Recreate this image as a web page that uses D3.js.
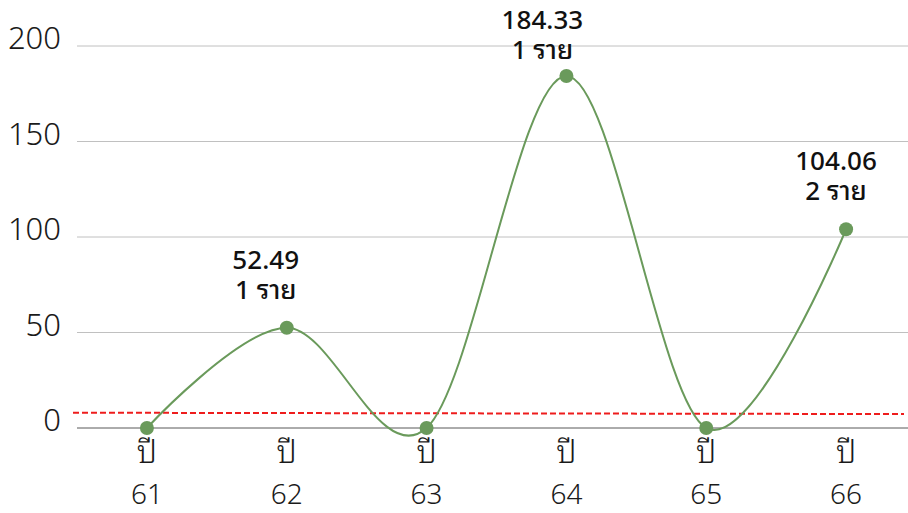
<!DOCTYPE html>
<html><head><meta charset="utf-8">
<script src="https://cdn.jsdelivr.net/npm/d3@7"></script>
<style>body{margin:0;background:#fff}svg{display:block}</style>
</head><body>
<svg id="c" width="908" height="513"></svg>
<script>
const categories = ["61","62","63","64","65","66"];
const values = [0, 52.49, 0, 184.33, 0, 104.06];
const counts = ["", "1 ราย", "", "1 ราย", "", "2 ราย"];
const refLine = [8.0, 7.3];
const yTicks = [0, 50, 100, 150, 200];
const xPrefix = "ปี";

// layout: horizontal nudge of each data label (px), separate from data
const labelDx = [0, -21, 0, -24, 0, -10];

const svg = d3.select("#c");
const font = "'Noto Sans Thai Looped','Noto Sans','Noto Sans Thai','DejaVu Sans',sans-serif";
const x = d3.scaleBand().domain(categories).range([77, 916]);
const y = d3.scaleLinear().domain([0, 200]).range([428, 46]);
const cx = d => x(d) + x.bandwidth() / 2;

// gridlines
svg.append("g").selectAll("line").data(yTicks.filter(t => t > 0)).join("line")
  .attr("x1", 77).attr("x2", 908).attr("y1", d => y(d)).attr("y2", d => y(d))
  .attr("stroke", "#c0c0c0").attr("stroke-width", 1);
// y labels
svg.append("g").selectAll("text").data(yTicks).join("text")
  .attr("x", 61).attr("y", d => y(d) + 3).attr("text-anchor", "end")
  .attr("font-family", font).attr("font-size", 31).attr("font-weight", 300).attr("fill", "#1a1a1a")
  .text(d => d);
// baseline axis
svg.append("line").attr("x1", 77).attr("x2", 908).attr("y1", y(0)).attr("y2", y(0))
  .attr("stroke", "#595959").attr("stroke-width", 1);

// red dashed reference line
svg.append("line").attr("x1", 73).attr("x2", 904)
  .attr("y1", y(refLine[0])).attr("y2", y(refLine[1]))
  .attr("stroke", "#ee1c1c").attr("stroke-width", 2).attr("stroke-dasharray", "6,3");

// x labels
const xl = svg.append("g").selectAll("text").data(categories).join("text")
  .attr("text-anchor", "middle")
  .attr("font-family", font).attr("font-size", 28).attr("font-weight", 300).attr("fill", "#1a1a1a");
xl.append("tspan").attr("x", d => cx(d)).attr("y", 463).attr("font-size", 32).text(xPrefix);
xl.append("tspan").attr("x", d => cx(d)).attr("y", 504).text(d => d);

// line
const pts = categories.map((c, i) => [cx(c), y(values[i])]);
svg.append("path").datum(pts)
  .attr("d", d3.line().curve(d3.curveCardinal.tension(0)))
  .attr("fill", "none").attr("stroke", "#6a9a5b").attr("stroke-width", 2);
svg.append("g").selectAll("circle").data(pts).join("circle")
  .attr("cx", d => d[0]).attr("cy", d => d[1]).attr("r", 7).attr("fill", "#6a9a5b");

// data labels
const lab = svg.append("g").selectAll("text")
  .data(categories.map((c, i) => ({c, v: values[i], n: counts[i], dx: labelDx[i]})).filter(d => d.n))
  .join("text").attr("text-anchor", "middle")
  .attr("font-family", font).attr("font-size", 26).attr("font-weight", 500).attr("fill", "#111");
const top1 = d => Math.max(y(d.v) - 59, 29);
lab.append("tspan").attr("x", d => cx(d.c) + d.dx).attr("y", top1).text(d => d.v.toFixed(2));
lab.append("tspan").attr("x", d => cx(d.c) + d.dx).attr("y", d => top1(d) + 30).text(d => d.n);
</script>
</body></html>
